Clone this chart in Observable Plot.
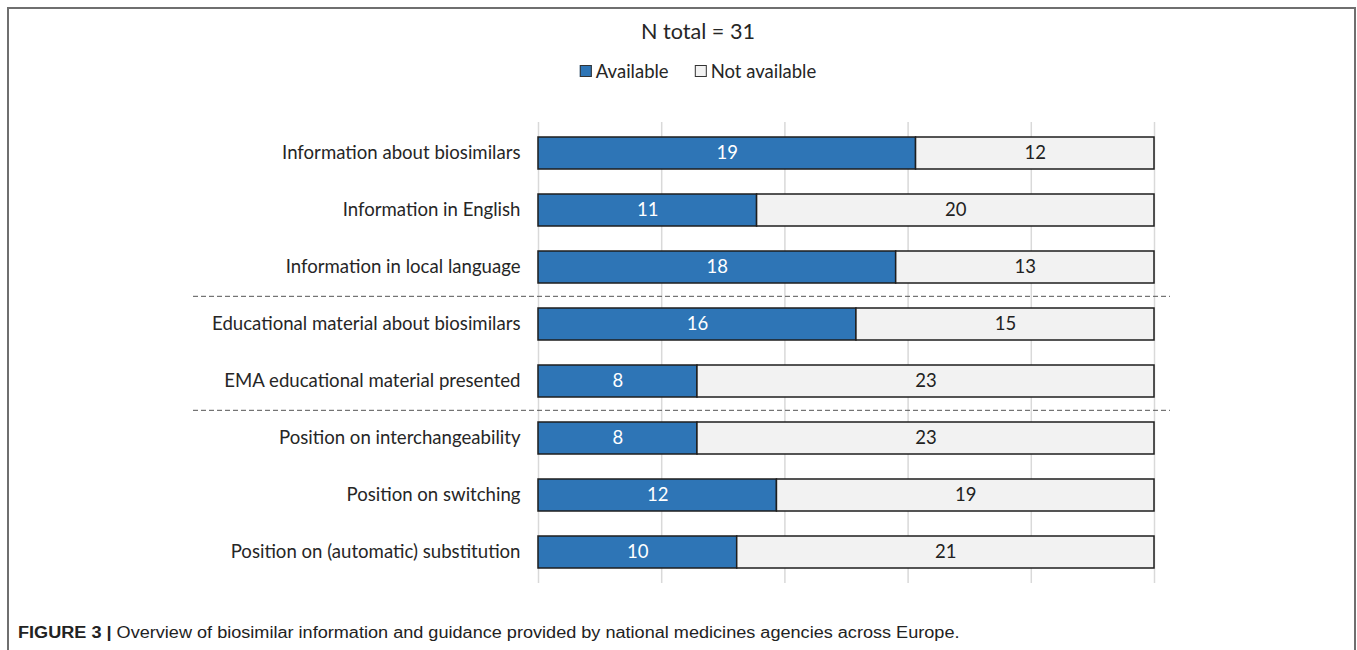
<!DOCTYPE html>
<html>
<head>
<meta charset="utf-8">
<script src="https://cdn.jsdelivr.net/npm/d3@7"></script>
<script src="https://cdn.jsdelivr.net/npm/@observablehq/plot@0.6"></script>
<style>
  html, body { margin: 0; padding: 0; background: #fff; }
  body { width: 1357px; height: 650px; position: relative; overflow: hidden; font-family: Lato, sans-serif; }
  #frame { position: absolute; left: 7px; top: 7px; width: 1345px; height: 700px;
           border: 2px solid #6f6f6f; border-bottom: none; box-sizing: content-box; }
  #header { position: relative; height: 99px; }
  #title { position: absolute; left: 698px; top: 21px; transform: translateX(-50%);
           font-size: 21.6px; line-height: 21px; color: #262626; white-space: nowrap; }
  #legend { position: absolute; left: 698px; top: 62px; transform: translateX(-50%);
            font-size: 18.5px; line-height: 18px; color: #262626; white-space: nowrap; display: flex; align-items: center; }
  .item { display: inline-flex; align-items: center; }
  .item + .item { margin-left: 26px; }
  .sw { width: 10px; height: 10px; border: 1px solid #333; margin-right: 4px; display: inline-block; }
  #chart { position: relative; }
  #caption { position: absolute; left: 18px; top: 625px; font-family: "Liberation Sans", Arial, sans-serif;
             font-size: 16px; line-height: 16px; color: #222; white-space: nowrap;
             transform: scaleX(1.131); transform-origin: 0 0; }
  #caption b { font-weight: bold; }
</style>
</head>
<body>
<div id="frame"></div>
<div id="header">
  <div id="title"></div>
  <div id="legend"></div>
</div>
<div id="chart"></div>
<div id="caption"></div>
<script>
// ---- data ----
const categories = [
  "Information about biosimilars",
  "Information in English",
  "Information in local language",
  "Educational material about biosimilars",
  "EMA educational material presented",
  "Position on interchangeability",
  "Position on switching",
  "Position on (automatic) substitution"
];
const available    = [19, 11, 18, 16, 8, 8, 12, 10];
const notAvailable = [12, 20, 13, 15, 23, 23, 19, 21];
const statuses = ["Available", "Not available"];
const statusColors = ["#2E75B6", "#F2F2F2"];
const nTotal = 31;
const gridTicks = [0, 6.2, 12.4, 18.6, 24.8, 31];
const separatorsAfter = ["Information in local language", "EMA educational material presented"];
const titleText = "N total = " + nTotal;
const captionLead = "FIGURE 3 |";
const captionText = " Overview of biosimilar information and guidance provided by national medicines agencies across Europe.";

// ---- table ----
const rows = [];
categories.forEach((c, i) => {
  rows.push({category: c, status: statuses[0], value: available[i]});
  rows.push({category: c, status: statuses[1], value: notAvailable[i]});
});

// ---- layout ----
const W = 1357, H = 500, mt = 23, mb = 16, ml = 538, mr = 203;
const step = (H - mt - mb) / categories.length;

document.getElementById("title").textContent = titleText;
const legend = document.getElementById("legend");
statuses.forEach((s, i) => {
  const it = document.createElement("span");
  it.className = "item";
  const sw = document.createElement("span");
  sw.className = "sw";
  sw.style.background = statusColors[i];
  it.appendChild(sw);
  it.appendChild(document.createTextNode(s));
  legend.appendChild(it);
});
const cap = document.getElementById("caption");
const b = document.createElement("b");
b.textContent = captionLead;
cap.appendChild(b);
cap.appendChild(document.createTextNode(captionText));

const chart = Plot.plot({
  width: W,
  height: H,
  marginTop: mt,
  marginBottom: mb,
  marginLeft: ml,
  marginRight: mr,
  style: {fontFamily: "Lato, sans-serif", fontSize: "18.6px", color: "#262626", background: "transparent", overflow: "visible"},
  x: {domain: [0, nTotal], axis: null},
  y: {domain: categories, paddingInner: 0.435, paddingOuter: 0.2175, label: null, tickSize: 0, tickPadding: 18},
  color: {domain: statuses, range: statusColors},
  marks: [
    Plot.ruleX(gridTicks, {x: d => d, stroke: "#d9d9d9", strokeWidth: 1.5}),
    Plot.ruleY(separatorsAfter, {y: d => d, dy: step / 2, insetLeft: -345, insetRight: -16,
      stroke: "#555", strokeWidth: 1, strokeDasharray: "5,3"}),
    Plot.barX(rows, Plot.stackX({x: "value", y: "category", fill: "status", stroke: "#1e1e1e", strokeWidth: 1.5})),
    Plot.text(rows, Plot.stackX({x: "value", y: "category", text: "value",
      fill: d => d.status === statuses[0] ? "#ffffff" : "#222222", fontSize: 18.5}))
  ]
});
document.getElementById("chart").appendChild(chart);
</script>
</body>
</html>
